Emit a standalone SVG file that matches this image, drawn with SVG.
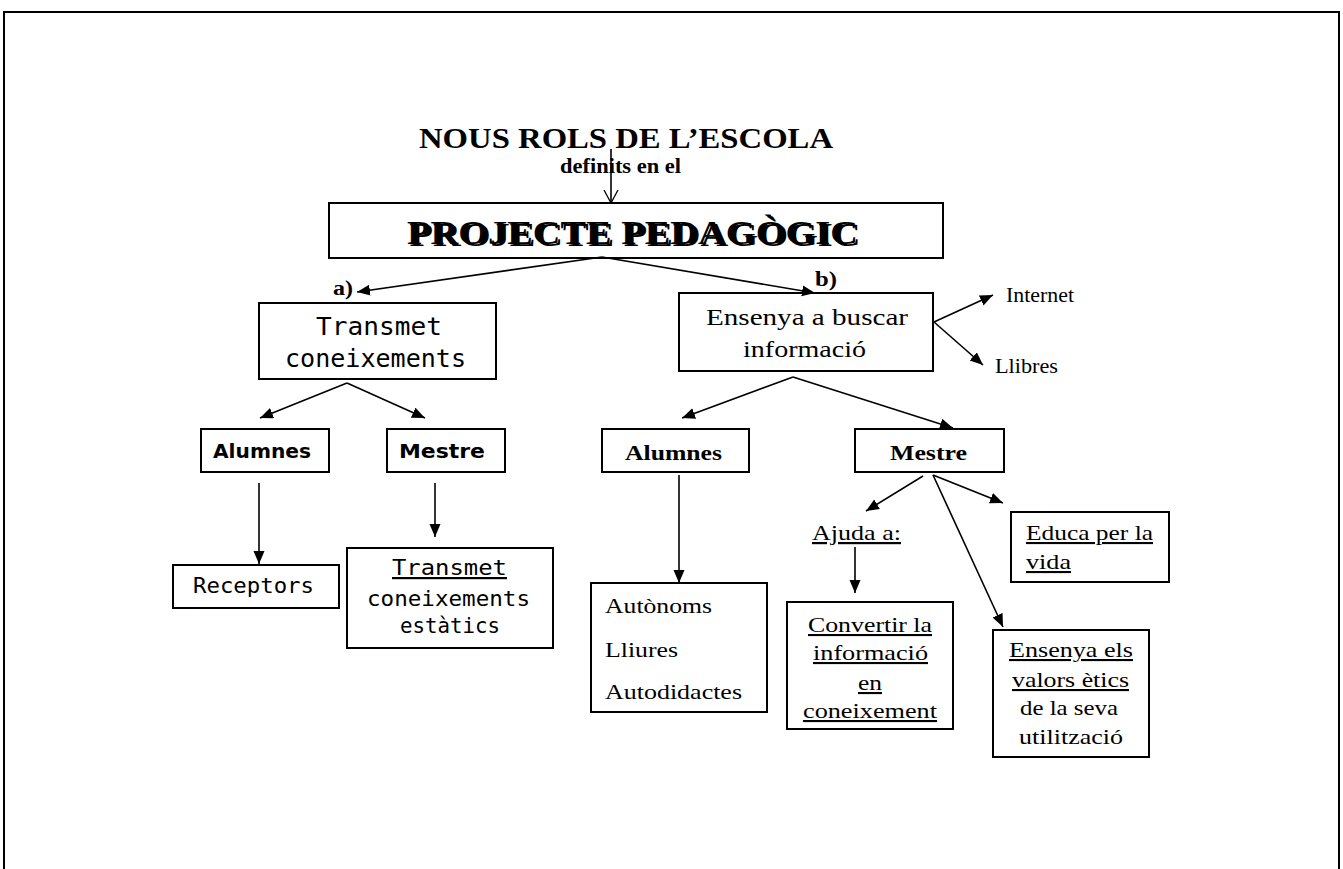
<svg xmlns="http://www.w3.org/2000/svg" width="1343" height="869" viewBox="0 0 1343 869">
<defs>
<style>
.box{fill:#fff;stroke:#000;stroke-width:2}
.ser{font-family:"Liberation Serif","Times New Roman",serif;fill:#000}
.mono{font-family:"DejaVu Sans Mono",monospace;fill:#000}
.sansb{font-family:"DejaVu Sans","Liberation Sans",sans-serif;font-weight:bold;fill:#000}
.b{font-weight:bold}
.u{text-decoration:underline}
.con line{stroke:#000;stroke-width:1.6;marker-end:url(#ah)}
</style>
<marker id="ah" markerUnits="userSpaceOnUse" markerWidth="14" markerHeight="12" refX="13" refY="5.5" orient="auto">
<path d="M0,0 L13,5.5 L0,11 z" fill="#000"/>
</marker>
<marker id="open" markerUnits="userSpaceOnUse" markerWidth="14" markerHeight="16" refX="13" refY="8" orient="auto">
<path d="M0,1 L13,8 L0,15" fill="none" stroke="#000" stroke-width="1.3"/>
</marker>
</defs>
<rect width="1343" height="869" fill="#fff"/>
<path d="M4,869 V12 H1339 V869" fill="none" stroke="#000" stroke-width="2"/>

<g id="title">
<text class="ser b" x="419" y="148" font-size="30" textLength="414" lengthAdjust="spacingAndGlyphs">NOUS ROLS DE L’ESCOLA</text>
<text class="ser b" x="560" y="173" font-size="21" textLength="121" lengthAdjust="spacingAndGlyphs">definits en el</text>
</g>

<g id="projecte">
<rect class="box" x="329" y="203" width="614" height="55"/>
<text class="ser b" x="409.5" y="246" font-size="34" textLength="451" lengthAdjust="spacingAndGlyphs" fill="#999">PROJECTE PEDAGÒGIC</text>
<text class="ser b" x="407" y="244" font-size="34" textLength="451" lengthAdjust="spacingAndGlyphs">PROJECTE PEDAGÒGIC</text>
</g>

<g id="label-a"><text class="ser b" x="333" y="295" font-size="20" textLength="20" lengthAdjust="spacingAndGlyphs">a)</text></g>
<g id="label-b"><text class="ser b" x="815" y="286" font-size="20" textLength="22" lengthAdjust="spacingAndGlyphs">b)</text></g>

<g id="transmet">
<rect class="box" x="259" y="303" width="237" height="76"/>
<text class="mono" x="316" y="335" font-size="25" textLength="126" lengthAdjust="spacingAndGlyphs">Transmet</text>
<text class="mono" x="285" y="367" font-size="25" textLength="181" lengthAdjust="spacingAndGlyphs">coneixements</text>
</g>

<g id="ensenya">
<rect class="box" x="679" y="293" width="254" height="78"/>
<text class="ser" x="706" y="325" font-size="24" textLength="202" lengthAdjust="spacingAndGlyphs">Ensenya a buscar</text>
<text class="ser" x="743" y="357" font-size="24" textLength="123" lengthAdjust="spacingAndGlyphs">informació</text>
</g>

<g id="internet"><text class="ser" x="1006" y="302" font-size="21" textLength="68" lengthAdjust="spacingAndGlyphs">Internet</text></g>
<g id="llibres"><text class="ser" x="995" y="373" font-size="21" textLength="63" lengthAdjust="spacingAndGlyphs">Llibres</text></g>

<g id="alumnes-a">
<rect class="box" x="201" y="429" width="128" height="43"/>
<text class="sansb" x="213" y="458" font-size="20" textLength="98" lengthAdjust="spacingAndGlyphs">Alumnes</text>
</g>
<g id="mestre-a">
<rect class="box" x="387" y="429" width="118" height="43"/>
<text class="sansb" x="399" y="458" font-size="20" textLength="86" lengthAdjust="spacingAndGlyphs">Mestre</text>
</g>

<g id="receptors">
<rect class="box" x="173" y="565" width="166" height="43"/>
<text class="mono" x="193" y="593" font-size="22" textLength="121" lengthAdjust="spacingAndGlyphs">Receptors</text>
</g>

<g id="transmet-estatics">
<rect class="box" x="347" y="548" width="206" height="100"/>
<text class="mono u" x="392" y="575" font-size="22" textLength="115" lengthAdjust="spacingAndGlyphs">Transmet</text>
<text class="mono" x="367" y="606" font-size="22" textLength="163" lengthAdjust="spacingAndGlyphs">coneixements</text>
<text class="mono" x="400" y="633" font-size="22" textLength="100" lengthAdjust="spacingAndGlyphs">estàtics</text>
</g>

<g id="alumnes-b">
<rect class="box" x="602" y="429" width="147" height="43"/>
<text class="ser b" x="625" y="460" font-size="21" textLength="97" lengthAdjust="spacingAndGlyphs">Alumnes</text>
</g>
<g id="mestre-b">
<rect class="box" x="855" y="429" width="149" height="43"/>
<text class="ser b" x="890" y="460" font-size="21" textLength="77" lengthAdjust="spacingAndGlyphs">Mestre</text>
</g>

<g id="autonoms">
<rect class="box" x="591" y="583" width="176" height="129"/>
<text class="ser" x="605" y="613" font-size="21" textLength="107" lengthAdjust="spacingAndGlyphs">Autònoms</text>
<text class="ser" x="605" y="657" font-size="21" textLength="73" lengthAdjust="spacingAndGlyphs">Lliures</text>
<text class="ser" x="605" y="699" font-size="21" textLength="137" lengthAdjust="spacingAndGlyphs">Autodidactes</text>
</g>

<g id="ajuda">
<text class="ser u" x="812" y="540" font-size="22" textLength="89" lengthAdjust="spacingAndGlyphs">Ajuda a:</text>
</g>

<g id="convertir">
<rect class="box" x="787" y="602" width="166" height="127"/>
<text class="ser u" x="808" y="632" font-size="21" textLength="124" lengthAdjust="spacingAndGlyphs">Convertir la</text>
<text class="ser u" x="813" y="660" font-size="21" textLength="115" lengthAdjust="spacingAndGlyphs">informació</text>
<text class="ser u" x="858" y="690" font-size="21" textLength="24" lengthAdjust="spacingAndGlyphs">en</text>
<text class="ser u" x="803" y="718" font-size="21" textLength="134" lengthAdjust="spacingAndGlyphs">coneixement</text>
</g>

<g id="educa">
<rect class="box" x="1011" y="512" width="158" height="70"/>
<text class="ser u" x="1026" y="540" font-size="21" textLength="127" lengthAdjust="spacingAndGlyphs">Educa per la</text>
<text class="ser u" x="1026" y="569" font-size="21" textLength="45" lengthAdjust="spacingAndGlyphs">vida</text>
</g>

<g id="valors">
<rect class="box" x="993" y="630" width="156" height="127"/>
<text class="ser u" x="1009" y="657" font-size="21" textLength="124" lengthAdjust="spacingAndGlyphs">Ensenya els</text>
<text class="ser u" x="1012" y="687" font-size="21" textLength="117" lengthAdjust="spacingAndGlyphs">valors ètics</text>
<text class="ser" x="1020" y="715" font-size="21" textLength="98" lengthAdjust="spacingAndGlyphs">de la seva</text>
<text class="ser" x="1019" y="744" font-size="21" textLength="104" lengthAdjust="spacingAndGlyphs">utilització</text>
</g>

<g id="connectors" class="con">
<line x1="611" y1="149" x2="611" y2="203" style="marker-end:url(#open)"/>
<line x1="602" y1="257" x2="357" y2="292"/>
<line x1="602" y1="257" x2="815" y2="293"/>
<line x1="347" y1="383" x2="260" y2="418"/>
<line x1="347" y1="383" x2="425" y2="418"/>
<line x1="259" y1="483" x2="259" y2="564"/>
<line x1="435" y1="483" x2="435" y2="537"/>
<line x1="934" y1="322" x2="993" y2="295"/>
<line x1="934" y1="322" x2="983" y2="365"/>
<line x1="793" y1="377" x2="682" y2="418"/>
<line x1="793" y1="377" x2="953" y2="428"/>
<line x1="679" y1="475" x2="679" y2="583"/>
<line x1="923" y1="476" x2="866" y2="511"/>
<line x1="933" y1="475" x2="1003" y2="503"/>
<line x1="933" y1="475" x2="1003" y2="627"/>
<line x1="855" y1="547" x2="855" y2="593"/>
</g>
</svg>
